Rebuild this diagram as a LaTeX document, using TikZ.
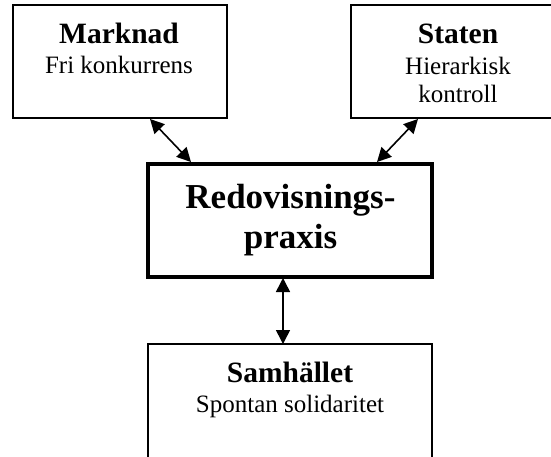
\documentclass[tikz,border=0pt]{standalone}
\usepackage{fontspec}
\setmainfont{Liberation Serif}
\usetikzlibrary{arrows.meta}
\begin{document}
\begin{tikzpicture}[x=1pt,y=-1pt,
  box/.style={draw, line width=1.6pt, inner sep=0pt},
  mainbox/.style={draw, line width=3.5pt, inner sep=0pt},
  head/.style={anchor=base, inner sep=0pt, font=\fontsize{29.5}{32}\selectfont\bfseries},
  sub/.style={anchor=base, inner sep=0pt, font=\fontsize{25}{28}\selectfont},
  big/.style={anchor=base, inner sep=0pt, font=\fontsize{35}{40}\selectfont\bfseries},
  tip/.tip={Triangle[length=14pt,width=14pt]},
  link/.style={line width=1.6pt, tip-tip}]
\useasboundingbox (0,0) rectangle (551,456);
\clip (0,0) rectangle (551,456);
% boxes
\node[box, minimum width=214pt, minimum height=113pt] (mark) at (120,61.5) {};
\node[box, minimum width=214pt, minimum height=113pt] (stat) at (458,61.5) {};
\node[mainbox, minimum width=284pt, minimum height=113pt] (redo) at (290,220.5) {};
\node[box, minimum width=284pt, minimum height=130pt] (samh) at (290,409) {};
% texts
\node[head] (markh) at (119,43) {Marknad};
\node[sub] (markt) at (119,73) {Fri konkurrens};
\node[head] (stath) at (458,43) {Staten};
\node[sub] (statt1) at (458,74) {Hierarkisk};
\node[sub] (statt2) at (458,102) {kontroll};
\node[big] (redo1) at (290.5,208) {Redovisnings-};
\node[big] (redo2) at (290.5,248) {praxis};
\node[head] (samhh) at (290,382) {Samhället};
\node[sub] (samht) at (290,412) {Spontan solidaritet};
% connector ends
\coordinate (m1) at (150,119);
\coordinate (m2) at (191,162);
\coordinate (s1) at (418,119);
\coordinate (s2) at (377,162);
\coordinate (r1) at (283,278);
\coordinate (r2) at (283,344);
\draw[link] (m1) -- (m2);
\draw[link] (s1) -- (s2);
\draw[link] (r1) -- (r2);
\end{tikzpicture}
\end{document}
